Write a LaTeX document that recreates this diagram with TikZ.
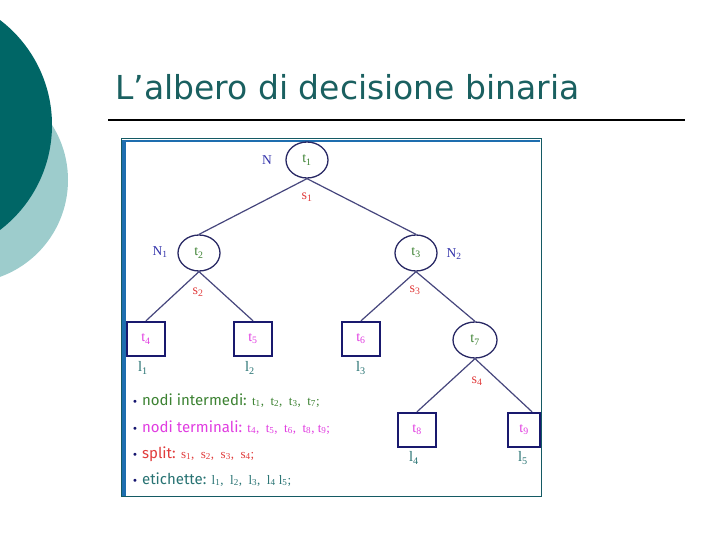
\documentclass[tikz,border=0pt]{standalone}
\usepackage{fontspec}
\setmainfont{Liberation Serif}
\newfontfamily\titlefont{DejaVu Sans}
\newfontfamily\bulfont{Fira Sans}
\newfontfamily\dotfont{DejaVu Sans}
\usetikzlibrary{shapes.geometric}
\definecolor{darkteal}{RGB}{0,102,102}
\definecolor{lightteal}{RGB}{157,204,204}
\definecolor{titlec}{RGB}{26,96,96}
\definecolor{edgec}{RGB}{70,70,125}
\definecolor{ellc}{RGB}{40,40,100}
\definecolor{boxc}{RGB}{25,25,110}
\definecolor{nblue}{RGB}{50,50,170}
\definecolor{tgreen}{RGB}{60,130,50}
\definecolor{tmag}{RGB}{225,60,225}
\definecolor{sred}{RGB}{225,60,60}
\definecolor{lteal}{RGB}{40,115,115}
\definecolor{framec}{RGB}{20,90,100}
\definecolor{barc}{RGB}{30,110,175}
\definecolor{bulc}{RGB}{20,20,110}
\tikzset{
  ell/.style={ellipse, draw=ellc, line width=1.3pt, minimum width=42pt, minimum height=36pt, inner sep=0pt, font=\fontsize{14}{14}\selectfont, text=tgreen},
  leafbox/.style={rectangle, draw=boxc, line width=2.4pt, minimum width=38pt, minimum height=34pt, inner sep=0pt, font=\fontsize{14}{14}\selectfont, text=tmag},
  edge/.style={draw=edgec, line width=1.2pt},
  nlab/.style={font=\fontsize{13.5}{13.5}\selectfont, text=nblue, inner sep=0pt},
  slab/.style={font=\fontsize{14}{14}\selectfont, text=sred, inner sep=0pt},
  llab/.style={font=\fontsize{14.5}{14.5}\selectfont, text=lteal, inner sep=0pt},
  listline/.style={anchor=base west, inner sep=0pt, font=\bulfont\fontsize{15}{15}\selectfont},
}
\newcommand{\subi}[2]{#1\textsubscript{#2}}
\newcommand{\ser}{\rmfamily\fontsize{13}{13}\selectfont}
\newcommand{\bul}{{\color{bulc}\dotfont\fontsize{10}{10}\selectfont•}\hspace{4pt}}
\begin{document}
\begin{tikzpicture}[x=1pt,y=-1pt]
\useasboundingbox (0,0) rectangle (720,540);
% decorative circles
\fill[lightteal] (-35,180) circle (103);
\fill[darkteal] (-80,125) circle (132);
% title
\node[anchor=base west, inner sep=0pt, text=titlec, font=\titlefont\fontsize{33}{33}\selectfont] (title) at (115,100) {L’albero di decisione binaria};
\draw[line width=2pt] (108,120) coordinate (ra) -- (685,120) coordinate (rb);
% frame
\fill[white] (121,139) rectangle (541,496);
\fill[barc] (122,140) rectangle (126,496);
\fill[barc] (122,140) rectangle (540,142.5);
\draw[framec, line width=1pt] (121,139) rectangle (541,496);
% tree nodes
\node[ell] (t1) at (307,160) {\subi{t}{1}};
\node[ell] (t2) at (199,253) {\subi{t}{2}};
\node[ell] (t3) at (416,253) {\subi{t}{3}};
\node[leafbox] (t4) at (146,339) {\subi{t}{4}};
\node[leafbox] (t5) at (253,339) {\subi{t}{5}};
\node[leafbox] (t6) at (361,339) {\subi{t}{6}};
\node[ell, minimum width=44pt] (t7) at (475,340) {\subi{t}{7}};
\node[leafbox] (t8) at (417,430) {\subi{t}{8}};
\node[leafbox, minimum width=32pt] (t9) at (524,430) {\subi{t}{9}};
% edges
\draw[edge] (t1.south) -- (t2.north);
\draw[edge] (t1.south) -- (t3.north);
\draw[edge] (t2.south) -- (t4.north);
\draw[edge] (t2.south) -- (t5.north);
\draw[edge] (t3.south) -- (t6.north);
\draw[edge] (t3.south) -- (t7.north);
\draw[edge] (t7.south) -- (t8.north);
\draw[edge] (t7.south) -- ([xshift=8pt]t9.north);
% labels
\node[nlab] (N) at (267,160) {N};
\node[nlab] (N1) at (160,252) {\subi{N}{1}};
\node[nlab] (N2) at (454,254) {\subi{N}{2}};
\node[slab] (s1) at (307,197) {\subi{s}{1}};
\node[slab] (s2) at (198,292) {\subi{s}{2}};
\node[slab] (s3) at (415,290) {\subi{s}{3}};
\node[slab] (s4) at (477,381) {\subi{s}{4}};
\node[llab] (l1) at (143,368) {\subi{l}{1}};
\node[llab] (l2) at (250,368) {\subi{l}{2}};
\node[llab] (l3) at (361,368) {\subi{l}{3}};
\node[llab] (l4) at (414,458) {\subi{l}{4}};
\node[llab] (l5) at (523,458) {\subi{l}{5}};
% list
\node[listline] (b1) at (132,405) {\bul\color{tgreen}nodi intermedi: {\ser\subi{t}{1}, \ \subi{t}{2}, \ \subi{t}{3}, \ \subi{t}{7};}};
\node[listline] (b2) at (132,432) {\bul\color{tmag}nodi terminali: {\ser\subi{t}{4}, \ \subi{t}{5}, \ \subi{t}{6}, \ \subi{t}{8}, \subi{t}{9};}};
\node[listline] (b3) at (132,458) {\bul\color{sred}split: {\ser\subi{s}{1}, \ \subi{s}{2}, \ \subi{s}{3}, \ \subi{s}{4};}};
\node[listline] (b4) at (132,484) {\bul\color{lteal}etichette: {\ser\subi{l}{1}, \ \subi{l}{2}, \ \subi{l}{3}, \ \subi{l}{4} \subi{l}{5};}};
\end{tikzpicture}
\end{document}
